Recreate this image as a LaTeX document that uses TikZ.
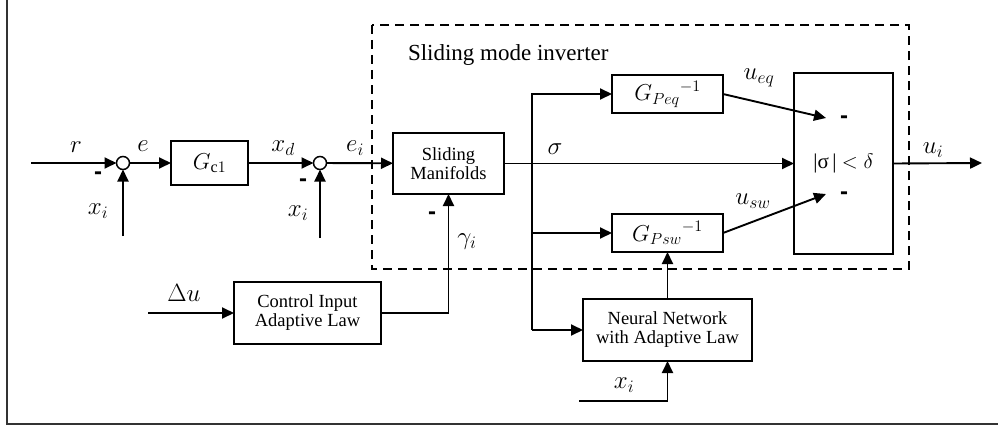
\RequirePackage{fix-cm}
\documentclass[tikz,border=0pt]{standalone}
\usepackage{fontspec}
\setmainfont{Liberation Serif}
\newfontfamily\barfont{Liberation Sans}
\usetikzlibrary{arrows.meta}
\begin{document}
\begin{tikzpicture}[x=1pt,y=-1pt,
  every node/.style={inner sep=0pt,outer sep=0pt},
  blk/.style={draw,line width=1.9pt,align=center,font=\fontsize{18.5}{21}\selectfont},
  sumc/.style={draw,circle,line width=1.5pt,minimum size=13pt},
  arr/.style={line width=1.9pt,-{Triangle[length=12pt,width=11pt]}},
  lab/.style={font=\fontsize{25}{28}\selectfont},
  minus/.style={font=\barfont\bfseries\fontsize{24}{24}\selectfont},
  frame/.style={line width=1.8pt,draw=black!80}]
\useasboundingbox (0,0) rectangle (998,428);
% outer frame (left and bottom edges visible)
\draw[frame] (7,0) -- (7,424) -- (998,424);
% dashed inverter box
\draw[line width=1.9pt,dash pattern=on 9pt off 6pt] (372,25) rectangle (909,269);
\node[font=\fontsize{23}{26}\selectfont,anchor=west] (title) at (408,55) {Sliding mode inverter};
% nodes
\node[sumc] (s1) at (123,163) {};
\node[sumc] (s2) at (320,163) {};
\node[blk,minimum width=77pt,minimum height=44pt] (gc) at (209.5,163) {\fontsize{23}{26}\selectfont$G_{\mathrm{c}1}$};
\node[blk,minimum width=111pt,minimum height=61pt] (sm) at (448.5,163.5) {Sliding\\[-2pt]Manifolds};
\node[blk,minimum width=111pt,minimum height=38pt] (gpeq) at (667.5,94) {\fontsize{23}{26}\selectfont${G_{Peq}}^{-1}$};
\node[blk,minimum width=111pt,minimum height=38pt] (gpsw) at (667.5,233) {\fontsize{23}{26}\selectfont${G_{Psw}}^{-1}$};
\node[blk,minimum width=99pt,minimum height=181pt] (big) at (843.5,163.5) {};
\node[font=\fontsize{21}{24}\selectfont] (cond) at (843.5,163) {|σ\,| $<\delta$};
\node[blk,minimum width=147pt,minimum height=62pt] (ci) at (307.5,313) {Control Input\\[-2pt]Adaptive Law};
\node[blk,minimum width=169pt,minimum height=62pt] (nn) at (667.5,330) {Neural Network\\[-2pt]with Adaptive Law};
% free ends
\coordinate (rin) at (31,163);
\coordinate (x1in) at (123,236);
\coordinate (x2in) at (320,238);
\coordinate (bj) at (532,163);
\coordinate (ueqend) at (826,118);
\coordinate (uswend) at (826,194);
\coordinate (uout) at (982,163);
\coordinate (duin) at (148,313);
\coordinate (xnin) at (579,401);
% connectors
\draw[arr] (rin) -- (s1);
\draw[arr] (x1in) -- (s1);
\draw[arr] (s1) -- (gc);
\draw[arr] (gc) -- (s2);
\draw[arr] (x2in) -- (s2);
\draw[arr] (s2) -- (sm);
\draw[arr] (sm.east |- big.west) -- (big.west);
\draw[arr] (bj |- nn.west) -- (bj |- gpeq.west) -- (gpeq.west);
\draw[arr] (bj |- gpsw.west) -- (gpsw.west);
\draw[arr] (bj |- nn.west) -- (nn.west);
\draw[arr] (gpeq.east) -- (ueqend);
\draw[arr] (gpsw.east) -- (uswend);
\draw[arr] (big.east) -- (uout);
\draw[arr] (duin) -- (ci.west);
\draw[arr] (ci.east) -| (sm.south);
\draw[arr] (nn.north) -- (gpsw.south);
\draw[arr] (xnin) -| (nn.south);
% labels
\node[lab] (lr) at (76,147) {$r$};
\node[lab] (le) at (143,146) {$e$};
\node[lab] (lxd) at (283,148) {$x_d$};
\node[lab] (lei) at (355,148) {$e_i$};
\node[lab] (lx1) at (98,211) {$x_i$};
\node[lab] (lx2) at (298,213) {$x_i$};
\node[minus] (m1) at (98,176) {-};
\node[minus] (m2) at (303,183) {-};
\node[minus] (m3) at (432,216) {-};
\node[minus] (m4) at (844,120) {-};
\node[minus] (m5) at (844,196) {-};
\node[lab] (lsig) at (555,149) {$\sigma$};
\node[lab] (lgam) at (467,242) {$\gamma_i$};
\node[lab] (lueq) at (759,78) {$u_{eq}$};
\node[lab] (lusw) at (753,201) {$u_{sw}$};
\node[lab] (lui) at (933,150) {$u_i$};
\node[lab] (ldu) at (184,293) {$\Delta u$};
\node[lab] (lxn) at (624,385) {$x_i$};
\end{tikzpicture}
\end{document}
